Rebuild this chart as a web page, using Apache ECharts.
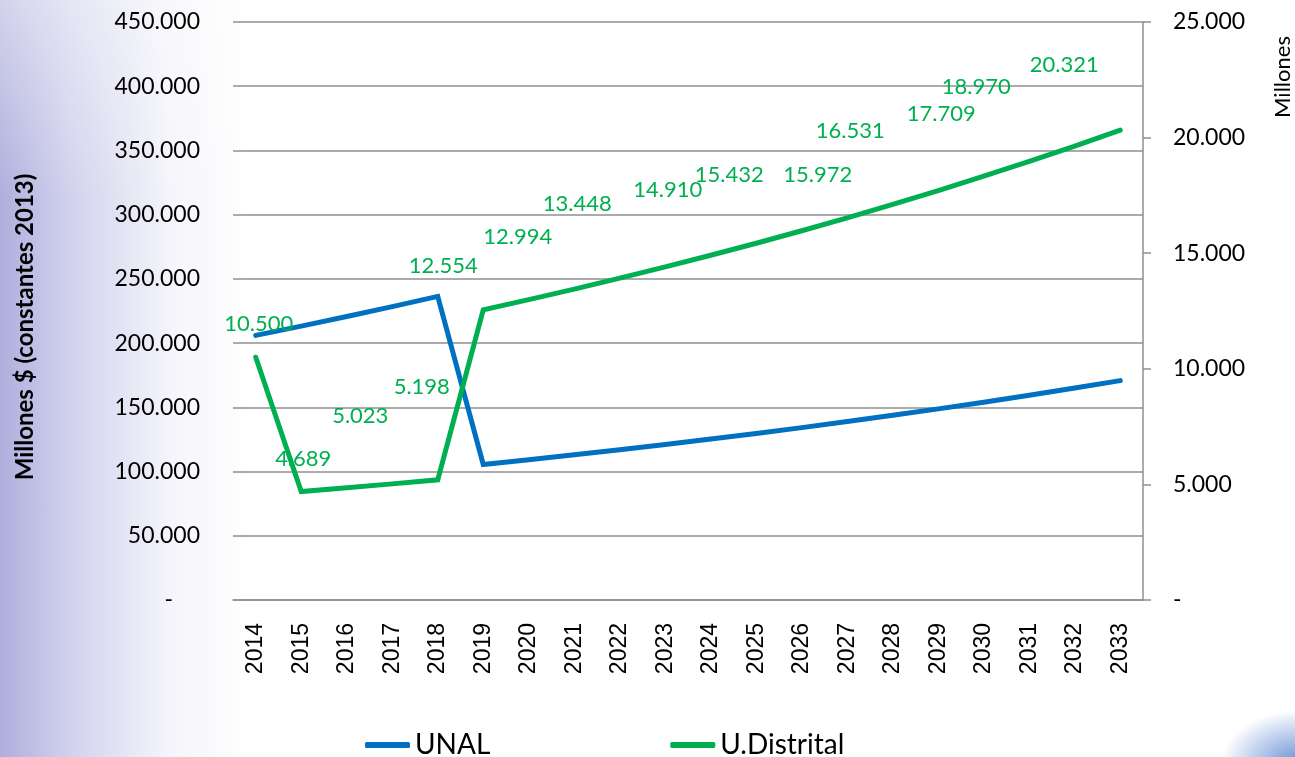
<!DOCTYPE html>
<html>
<head>
<meta charset="utf-8">
<title>UNAL - U.Distrital</title>
<script src="https://cdn.jsdelivr.net/npm/echarts@6/dist/echarts.min.js"></script>
<style>
  html, body { margin: 0; padding: 0; width: 1295px; height: 757px; overflow: hidden; }
  body {
    background:
      radial-gradient(ellipse 80px 55px at 1300px 765px, rgba(70, 120, 205, 0.85), rgba(70, 120, 205, 0) 100%),
      linear-gradient(to bottom, rgba(255, 255, 255, 0.45) 0px, rgba(255, 255, 255, 0) 200px),
      linear-gradient(to right, rgba(160, 160, 215, 0.85) 0px, rgba(185, 185, 228, 0.65) 70px, rgba(225, 225, 242, 0.35) 170px, rgba(255, 255, 255, 0) 250px),
      #fff;
  }
  #main { width: 1295px; height: 757px; }
</style>
</head>
<body>
<div id="main"></div>
<script>
// años
var years = ['2014', '2015', '2016', '2017', '2018', '2019', '2020', '2021', '2022', '2023',
  '2024', '2025', '2026', '2027', '2028', '2029', '2030', '2031', '2032', '2033']
// UNAL, eje izquierdo (millones $)
var unal = [206000, 213200, 220700, 228400, 236400, 105500, 109200, 113000, 117000, 121100,
  125300, 129700, 134200, 138900, 143800, 148800, 154000, 159400, 165000, 170800]
// U.Distrital, eje derecho
var distrital = [10500, 4689, 4853, 5023, 5198, 12554, 12994, 13448, 13919, 14406,
  14910, 15432, 15972, 16531, 17110, 17709, 18329, 18970, 19634, 20321]

// desplazamiento de las etiquetas (null = sin etiqueta)
var labelOffsets = [[3, -33], [2, -33], null, [-32, -68], [-16, -93], [-40, -44], [-11, -63], [3, -85], null, null,
  [-43, -65], [-27, -68], [16, -56], [3, -87], null, [3, -77], null, [-53, -75], null, [-56, -65]]

var gridColor = '#8f8f8f'

function fmt (v) {
  if (v === 0) return '-'
  return String(v).replace(/\B(?=(\d{3})+(?!\d))/g, '.')
}

var chart = echarts.init(document.getElementById('main'))
var option = {
  animation: false,
  grid: { left: 233, right: 152, top: 22, bottom: 157 },
  legend: {
    left: 360,
    top: 726,
    icon: 'roundRect',
    itemWidth: 45,
    itemHeight: 6,
    itemGap: 180,
    textStyle: { fontFamily: 'Lato', fontSize: 28, color: '#000' },
    data: [
      { name: 'UNAL', itemStyle: { color: '#0070C0' } },
      { name: 'U.Distrital', itemStyle: { color: '#00B050' } }
    ]
  },
  xAxis: {
    type: 'category',
    data: years,
    boundaryGap: true,
    axisLine: { lineStyle: { color: gridColor, width: 1.5 } },
    axisTick: { show: false },
    axisLabel: { rotate: 90, interval: 0, margin: 23, fontFamily: 'Liberation Sans', fontSize: 23, color: '#000' }
  },
  yAxis: [
    {
      type: 'value',
      min: 0,
      max: 450000,
      interval: 50000,
      axisLine: { show: false },
      axisTick: { show: false },
      splitLine: { lineStyle: { color: gridColor, width: 1.5 } },
      axisLabel: {
        margin: 33,
        fontFamily: 'Lato',
        fontSize: 23,
        color: '#000',
        formatter: function (v) { return v === 0 ? '{z|-}' : fmt(v) },
        rich: { z: { fontFamily: 'Lato', fontSize: 23, color: '#000', padding: [0, 27, 0, 0] } }
      }
    },
    {
      type: 'value',
      position: 'right',
      min: 0,
      max: 25000,
      interval: 5000,
      axisLine: { show: true, lineStyle: { color: gridColor, width: 1.5 } },
      axisTick: { show: true, length: 8, lineStyle: { color: gridColor, width: 1.5 } },
      splitLine: { show: false },
      axisLabel: { margin: 30, fontFamily: 'Lato', fontSize: 23, color: '#000', formatter: fmt }
    }
  ],
  graphic: [
    {
      type: 'text',
      x: 25,
      y: 327,
      rotation: Math.PI / 2,
      style: {
        text: 'Millones $ (constantes 2013)',
        fontFamily: 'Lato',
        fontWeight: 'bold',
        fontSize: 24,
        fill: '#000',
        align: 'center',
        verticalAlign: 'middle'
      }
    },
    {
      type: 'text',
      x: 1283,
      y: 77,
      rotation: Math.PI / 2,
      style: {
        text: 'Millones',
        fontFamily: 'Lato',
        fontSize: 22,
        fill: '#000',
        align: 'center',
        verticalAlign: 'middle'
      }
    }
  ],
  series: [
    {
      name: 'UNAL',
      type: 'line',
      yAxisIndex: 0,
      data: unal,
      symbol: 'none',
      itemStyle: { color: '#0070C0' },
      lineStyle: { color: '#0070C0', width: 5, cap: 'round', join: 'miter' }
    },
    {
      name: 'U.Distrital',
      type: 'line',
      yAxisIndex: 1,
      data: distrital.map(function (v, i) {
        var off = labelOffsets[i]
        return { value: v, label: off ? { show: true, offset: off } : { show: false } }
      }),
      symbol: 'circle',
      symbolSize: 1,
      showSymbol: true,
      itemStyle: { color: 'rgba(0,0,0,0)' },
      lineStyle: { color: '#00B050', width: 5, cap: 'round', join: 'miter' },
      label: {
        show: true,
        position: 'inside',
        fontFamily: 'Lato',
        fontSize: 22,
        color: '#00B050',
        formatter: function (p) { return fmt(p.value) }
      }
    }
  ]
}
chart.setOption(option)
</script>
</body>
</html>
